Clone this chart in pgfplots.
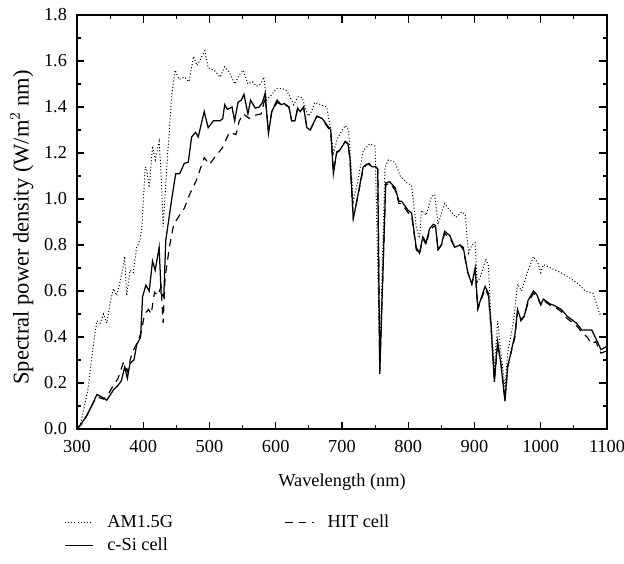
\documentclass[border=0pt]{standalone}
\usepackage{fontspec}
\setmainfont{Liberation Serif}
\usepackage{pgfplots}
\usepackage{pgfplotstable}
\pgfplotsset{compat=1.18}

\pgfplotstableread{
x y
300 0.00
305 0.02
310 0.08
317 0.18
323 0.33
330 0.47
335 0.46
340 0.50
345 0.46
350 0.55
355 0.61
360 0.58
365 0.64
370 0.71
372 0.75
375 0.58
380 0.69
385 0.68
390 0.79
395 0.82
398 0.88
403 1.14
405 1.13
409 1.05
414 1.23
418 1.17
424 1.25
427 1.11
430 0.88
437 1.20
443 1.45
448 1.56
454 1.52
462 1.53
469 1.51
476 1.62
481 1.58
485 1.60
493 1.645
498 1.57
507 1.56
516 1.53
523 1.575
530 1.55
538 1.50
545 1.54
551 1.56
558 1.50
565 1.51
571 1.49
577 1.50
582 1.53
586 1.43
593 1.45
601 1.48
610 1.48
617 1.47
622 1.44
627 1.41
634 1.445
640 1.44
649 1.36
654 1.38
659 1.42
668 1.41
677 1.40
683 1.30
687 1.20
694 1.27
705 1.32
710 1.30
713 1.17
717 0.99
724 1.08
732 1.21
742 1.24
750 1.23
757 0.30
765 1.14
770 1.17
780 1.16
788 1.10
798 1.07
805 1.06
812 0.88
817 0.83
820 0.95
827 0.93
835 1.01
840 1.02
845 0.89
855 0.98
863 0.95
872 0.92
881 0.945
886 0.93
891 0.765
896 0.80
901 0.81
904 0.635
910 0.67
917 0.74
921 0.71
925 0.47
930 0.26
935 0.47
940 0.33
946 0.18
950 0.33
959 0.47
965 0.63
971 0.60
981 0.69
989 0.75
996 0.72
1000 0.68
1004 0.715
1015 0.70
1030 0.68
1042 0.66
1057 0.63
1067 0.60
1079 0.59
1089 0.50
1099 0.50
}\amtable

\pgfplotstableread{
x y
300 0.00
307 0.025
315 0.06
322 0.10
330 0.15
337 0.14
345 0.125
355 0.17
362 0.19
367 0.21
372 0.27
376 0.22
380 0.285
386 0.30
390 0.365
396 0.40
399 0.575
404 0.625
409 0.60
414 0.73
418 0.69
424 0.79
427 0.59
431 0.575
434 0.82
443 1.00
449 1.11
455 1.11
462 1.155
468 1.16
473 1.27
479 1.29
483 1.27
492 1.38
498 1.31
506 1.34
516 1.34
520 1.35
523 1.41
527 1.39
534 1.40
538 1.34
543 1.42
548 1.43
552 1.455
558 1.37
562 1.43
569 1.395
575 1.40
580 1.42
584 1.46
589 1.285
594 1.38
602 1.43
608 1.41
613 1.415
620 1.40
624 1.34
629 1.34
633 1.395
637 1.38
642 1.40
647 1.31
652 1.30
662 1.36
670 1.35
674 1.335
679 1.315
683 1.30
687 1.11
692 1.205
696 1.21
705 1.25
709 1.24
712 1.18
717 0.915
721 0.97
732 1.14
737 1.15
741 1.155
745 1.14
751 1.14
754 1.13
757 0.24
766 1.07
772 1.075
780 1.05
786 0.99
790 0.99
800 0.95
805 0.94
812 0.79
817 0.765
822 0.835
827 0.81
832 0.87
838 0.89
841 0.885
845 0.78
850 0.80
855 0.86
863 0.84
870 0.79
878 0.80
883 0.79
890 0.68
896 0.63
901 0.70
905 0.525
916 0.62
921 0.59
925 0.45
930 0.205
935 0.38
940 0.28
946 0.12
950 0.27
961 0.41
965 0.52
970 0.475
975 0.49
981 0.56
989 0.60
994 0.585
1000 0.54
1004 0.565
1013 0.545
1022 0.535
1031 0.52
1040 0.49
1054 0.46
1062 0.43
1077 0.43
1083 0.395
1091 0.345
1100 0.36
}\csitable

\pgfplotstableread{
x y
300 0.00
310 0.03
322 0.10
330 0.14
340 0.13
347 0.15
355 0.19
362 0.22
370 0.29
376 0.25
383 0.33
390 0.37
397 0.42
402 0.50
408 0.52
412 0.50
417 0.595
422 0.58
427 0.62
430 0.46
433 0.66
440 0.80
446 0.89
455 0.93
462 0.96
470 1.02
480 1.08
492 1.18
500 1.15
510 1.19
519 1.22
530 1.29
540 1.28
545 1.34
551 1.37
560 1.35
570 1.365
578 1.37
584 1.44
589 1.30
594 1.38
602 1.42
608 1.41
613 1.41
620 1.40
624 1.34
629 1.34
633 1.39
637 1.38
642 1.40
647 1.31
652 1.30
662 1.36
670 1.35
674 1.33
679 1.31
683 1.29
687 1.12
692 1.20
696 1.21
705 1.25
709 1.24
712 1.17
717 0.92
721 0.97
732 1.13
737 1.15
741 1.15
745 1.14
751 1.14
754 1.13
757 0.25
766 1.06
772 1.07
780 1.04
786 0.98
790 0.98
800 0.94
805 0.93
812 0.78
817 0.76
822 0.83
827 0.80
832 0.86
838 0.88
841 0.88
845 0.78
850 0.80
855 0.85
863 0.83
870 0.79
878 0.80
883 0.78
890 0.68
896 0.63
901 0.69
905 0.52
916 0.61
921 0.58
925 0.44
930 0.21
935 0.37
940 0.28
946 0.13
950 0.27
961 0.40
965 0.51
970 0.47
975 0.49
981 0.55
989 0.59
994 0.58
1000 0.54
1004 0.56
1013 0.54
1022 0.53
1031 0.51
1040 0.48
1054 0.45
1062 0.42
1070 0.40
1077 0.37
1083 0.38
1091 0.33
1100 0.34
}\hittable

\begin{document}
\begin{tikzpicture}
\useasboundingbox (-46.2pt,-80.4pt) rectangle (328.2pt,257.4pt);
\begin{axis}[
  at={(0,0)}, anchor=south west,
  width=318pt, height=248.4pt, scale only axis,
  xmin=300, xmax=1100, ymin=0, ymax=1.8,
  xtick={300,400,...,1100},
  minor xtick={350,450,...,1050},
  ytick={0,0.2,...,1.8},
  minor ytick={0.1,0.3,...,1.7},
  tick align=inside,
  major tick length=4.5pt,
  minor tick length=2.5pt,
  axis line style={line width=0.8pt},
  every tick/.style={black, line width=0.7pt},
  /pgf/number format/assume math mode=true,
  xticklabel style={/pgf/number format/1000 sep={}, font=\fontsize{11}{13}\selectfont, yshift=-3.5pt},
  yticklabel style={/pgf/number format/fixed, /pgf/number format/fixed zerofill, /pgf/number format/precision=1, font=\fontsize{11}{13}\selectfont, xshift=-2.5pt},
  xlabel={Wavelength (nm)},
  ylabel={Spectral power density (W/m$^{2}$ nm)},
  xlabel style={at={(0.5,-0.093)}, anchor=north, font=\fontsize{11}{13}\selectfont},
  ylabel style={at={(-0.104,0.487)}, anchor=center, rotate=0, font=\fontsize{13.5}{15}\selectfont},
  legend style={at={(-0.034,-0.19)}, anchor=north west, draw=none, fill=none,
    font=\fontsize{11}{13}\selectfont, row sep=1pt,
    /tikz/every odd column/.append style={column sep=6pt},
    /tikz/every even column/.append style={column sep=65pt}},
  legend columns=2,
  legend cell align=left,
  clip=true,
]
\addplot[black, line width=0.6pt, dash pattern=on 0.6pt off 1.3pt] table[x=x,y=y] {\amtable};
\addlegendentry{AM1.5G}
\addplot[black, line width=0.7pt, dash pattern=on 4.5pt off 3.5pt] table[x=x,y=y] {\hittable};
\addlegendentry{HIT cell}
\addplot[black, line width=0.75pt] table[x=x,y=y] {\csitable};
\addlegendentry{c-Si cell}
\end{axis}
\end{tikzpicture}
\end{document}
